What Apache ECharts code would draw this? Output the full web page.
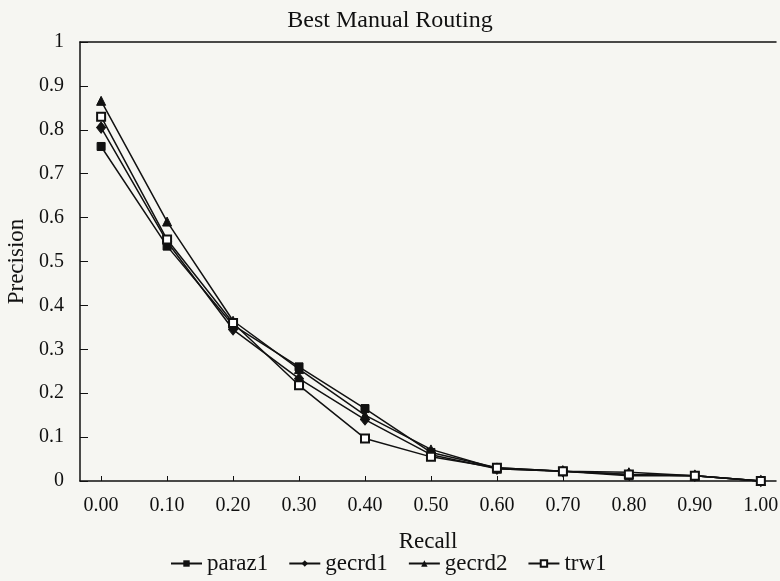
<!DOCTYPE html>
<html>
<head>
<meta charset="utf-8">
<script src="https://cdn.jsdelivr.net/npm/echarts@6/dist/echarts.min.js"></script>
<style>
  html, body { margin: 0; padding: 0; background: #f6f6f2; }
  #chart { width: 780px; height: 581px; }
</style>
</head>
<body>
<div id="chart"></div>
<script>
// recall levels (x) and precision for each run
const recall = [0, 0.1, 0.2, 0.3, 0.4, 0.5, 0.6, 0.7, 0.8, 0.9, 1.0];
const paraz1 = [0.762, 0.535, 0.355, 0.26, 0.165, 0.065, 0.03, 0.022, 0.012, 0.012, 0];
const gecrd1 = [0.805, 0.545, 0.345, 0.233, 0.14, 0.06, 0.028, 0.022, 0.015, 0.012, 0];
const gecrd2 = [0.866, 0.591, 0.365, 0.255, 0.15, 0.072, 0.028, 0.022, 0.02, 0.012, 0];
const trw1 = [0.83, 0.55, 0.36, 0.218, 0.097, 0.055, 0.03, 0.022, 0.015, 0.012, 0];
const xTicks = [0, 0.1, 0.2, 0.3, 0.4, 0.5, 0.6, 0.7, 0.8, 0.9, 1.0];

const font = 'Liberation Serif';

function pairs(ys) {
  return recall.map(function (x, i) { return [x, ys[i]]; });
}

function line(name, ys, symbol, size) {
  return {
    name: name,
    type: 'line',
    data: pairs(ys),
    symbol: symbol,
    symbolSize: size,
    clip: false,
    lineStyle: { color: '#111', width: 1.5 },
    itemStyle: { color: '#111', borderColor: '#111' }
  };
}

const myChart = echarts.init(document.getElementById('chart'));
const option = {
  backgroundColor: '#f6f6f2',
  animation: false,
  title: {
    text: 'Best Manual Routing',
    left: 'center',
    top: 4,
    textStyle: { fontFamily: font, fontSize: 24, fontWeight: 'normal', color: '#111' }
  },
  legend: {
    left: 165,
    top: 547,
    itemWidth: 31,
    itemHeight: 8,
    itemGap: 20,
    textStyle: { fontFamily: font, fontSize: 23, color: '#111' },
    data: ['paraz1', 'gecrd1', 'gecrd2', 'trw1']
  },
  grid: {
    left: 80,
    right: 4,
    top: 42,
    bottom: 100,
    containLabel: false,
    outerBoundsMode: 'none'
  },
  xAxis: [{
    type: 'value',
    min: -0.032,
    max: 1.023,
    name: 'Recall',
    nameLocation: 'middle',
    nameGap: 49,
    nameTextStyle: { fontFamily: font, fontSize: 23, color: '#111' },
    axisLine: { onZero: false, lineStyle: { color: '#111', width: 1.5 } },
    axisTick: { inside: true, length: 5, customValues: xTicks, lineStyle: { color: '#111' } },
    axisLabel: {
      customValues: xTicks,
      margin: 15,
      fontFamily: font,
      fontSize: 20,
      color: '#111',
      formatter: function (v) { return v.toFixed(2); }
    },
    splitLine: { show: false }
  }, {
    type: 'value',
    position: 'top',
    min: -0.032,
    max: 1.023,
    axisLine: { show: true, onZero: false, lineStyle: { color: '#111', width: 1.5 } },
    axisTick: { show: false },
    axisLabel: { show: false },
    splitLine: { show: false }
  }],
  yAxis: {
    type: 'value',
    min: 0,
    max: 1,
    interval: 0.1,
    name: 'Precision',
    nameLocation: 'middle',
    nameGap: 48,
    nameTextStyle: { fontFamily: font, fontSize: 23, color: '#111' },
    axisLine: { show: true, onZero: false, lineStyle: { color: '#111', width: 1.5 } },
    axisTick: { show: true, inside: true, length: 8, lineStyle: { color: '#111' } },
    axisLabel: {
      margin: 16,
      fontFamily: font,
      fontSize: 20,
      color: '#111',
      formatter: function (v) { return String(Math.round(v * 10) / 10); }
    },
    splitLine: { show: false }
  },
  series: [
    line('paraz1', paraz1, 'rect', 8),
    line('gecrd1', gecrd1, 'diamond', [9, 11]),
    line('gecrd2', gecrd2, 'triangle', 9),
    line('trw1', trw1, 'emptyRect', 8)
  ]
};
myChart.setOption(option);
</script>
</body>
</html>
